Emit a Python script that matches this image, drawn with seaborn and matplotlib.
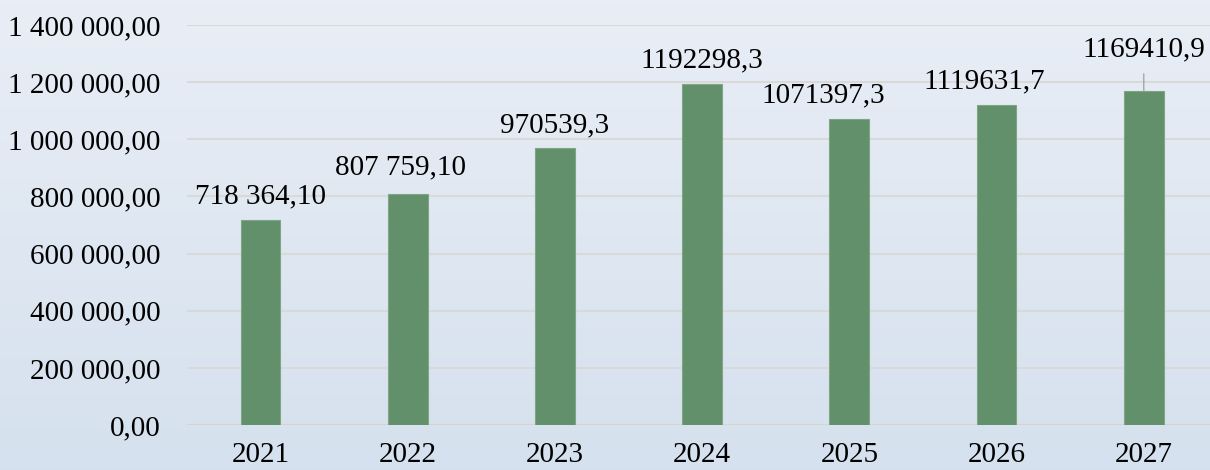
import numpy as np
import pandas as pd
import matplotlib
matplotlib.use("Agg")
import matplotlib.pyplot as plt
import seaborn as sns

# chart data
years = ["2021", "2022", "2023", "2024", "2025", "2026", "2027"]
values = [718364.10, 807759.10, 970539.3, 1192298.3, 1071397.3, 1119631.7, 1169410.9]
value_labels = ["718 364,10", "807 759,10", "970539,3", "1192298,3",
                "1071397,3", "1119631,7", "1169410,9"]
yticks = [0, 200000, 400000, 600000, 800000, 1000000, 1200000, 1400000]
ytick_labels = ["0,00", "200 000,00", "400 000,00", "600 000,00",
                "800 000,00", "1 000 000,00", "1 200 000,00", "1 400 000,00"]

df = pd.DataFrame({"year": years, "value": values})

sns.set_style("white")
plt.rcParams["font.family"] = ["Liberation Serif", "DejaVu Serif"]
plt.rcParams["text.color"] = "black"
plt.rcParams["xtick.color"] = "black"
plt.rcParams["ytick.color"] = "black"

fig = plt.figure(figsize=(12.1, 4.7), dpi=100)

# gradient background
bg = fig.add_axes([0, 0, 1, 1], zorder=0)
top = np.array([0.914, 0.933, 0.965])
bottom = np.array([0.835, 0.882, 0.933])
t = np.linspace(0, 1, 256)[:, None, None]
grad = top * (1 - t) + bottom * t
bg.imshow(np.repeat(grad, 2, axis=1), aspect="auto", extent=[0, 1, 0, 1])
bg.axis("off")

ax = fig.add_axes([0.1545, 0.0957, 0.8455, 0.8511], zorder=1)
ax.set_facecolor("none")
sns.barplot(data=df, x="year", y="value", color="#62906A", width=0.27,
            edgecolor="#7FA585", linewidth=0.8, saturation=1, ax=ax, zorder=3)

fs = 21
ax.set_ylim(0, 1400000)
ax.set_xlim(-0.5, 6.45)
ax.set_yticks(yticks)
ax.set_yticklabels(ytick_labels, fontsize=fs)
ax.tick_params(axis="x", labelsize=fs, length=0, pad=12)
ax.tick_params(axis="y", length=0, pad=19)
ax.yaxis.grid(True, color="#D9D9D9", linewidth=1.5, zorder=0)
ax.set_axisbelow(True)
for s in ax.spines.values():
    s.set_visible(False)
ax.axhline(0, color="#D8D4C8", linewidth=1.5, zorder=2)
ax.set_xlabel("")
ax.set_ylabel("")

# data labels (offsets in points)
offsets = [(0, 17), (-5, 19), (0, 16), (0, 17), (-19, 17), (-9, 17), (0, 30)]
for i, (v, lab) in enumerate(zip(values, value_labels)):
    dx, dy = offsets[i]
    if i == 6:
        ax.annotate(lab, xy=(i, v), xytext=(dx, dy), textcoords="offset points",
                    ha="center", va="center", fontsize=fs,
                    arrowprops=dict(arrowstyle="-", color="#A6A6A6", lw=1,
                                    shrinkA=6, shrinkB=0, relpos=(0.5, 0.0)),
                    annotation_clip=False)
    else:
        ax.annotate(lab, xy=(i, v), xytext=(dx, dy), textcoords="offset points",
                    ha="center", va="center", fontsize=fs, annotation_clip=False)

fig.savefig("out.png", dpi=100)
